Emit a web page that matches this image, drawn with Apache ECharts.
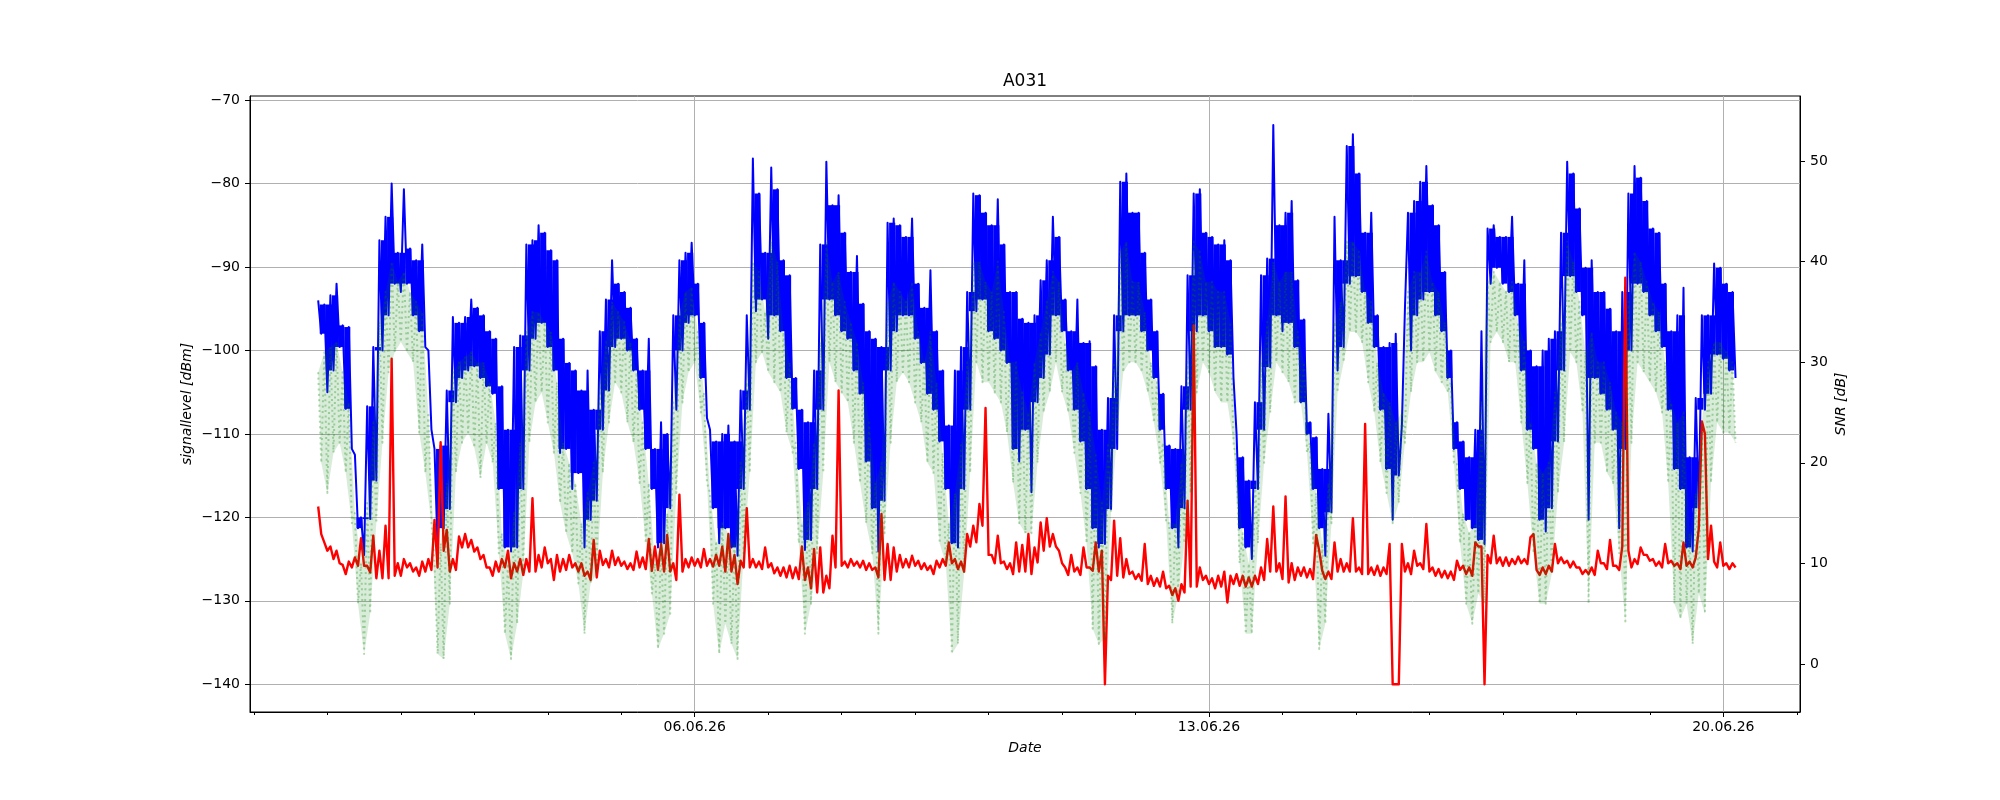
<!DOCTYPE html>
<html>
<head>
<meta charset="utf-8">
<title>A031</title>
<script src="https://cdn.jsdelivr.net/npm/echarts@6/dist/echarts.min.js"></script>
<style>
  html, body { margin: 0; padding: 0; background: #fff; }
  #chart { width: 2000px; height: 800px; }
</style>
</head>
<body>
<div id="chart"></div>
<script>
const HOUR = 3600 * 1000;
const DAY = 24 * HOUR;

// first sample 31.05.26 21:00; each entry k is the 2-hour slot k,
// high value at the even hour, low value at the odd hour after it
const startTime = Date.UTC(2026, 4, 31, 21);
const slotHours = 2;

const signalHigh = [
  -94, -94.5, -93.4, -92, -97, -97.2, -112.5, -120, -106.7, -99.6,
  -86.8, -84, -80, -88.3, -80.7, -87.8, -89.2, -87.3, -100, -111.8,
  -111.4, -104.8, -96, -96.7, -96, -93.9, -94.9, -95.8, -97.7, -98.6,
  -104.3, -109.5, -99.6, -98.2, -87.3, -86.8, -85, -85.9, -88,
  -89.2, -98.6, -101.5, -102.4, -104.8, -102.4, -107.1, -97.7, -93.9, -89.2,
  -92, -93, -94.9, -98.6, -102.4, -98.6, -111.8, -108.6, -110, -95.8,
  -89.2, -88.3, -87.1, -92, -96.7, -109.5, -110.9, -110, -109, -110.9,
  -104.8, -95.8, -77, -81.2, -88.3, -78.1, -80.7, -89.2, -91,
  -103.3, -107.1, -108.6, -102.4, -87.3, -77.4, -82.6, -81.4, -85.9, -90.6,
  -88.7, -94.4, -97.7, -98.6, -99.6, -84.7, -84.2, -85, -86.4, -84.2,
  -92, -94.9, -90.4, -97.7, -102.4, -109, -102.4, -99.6, -93, -81.2,
  -81.4, -83.5, -85, -81.9, -87.3, -93, -93, -96.2, -96.7,
  -95.8, -91.6, -89.2, -84, -86.4, -93.9, -97.7, -93.9, -99.1, -98.9,
  -101.9, -109.5, -105.7, -95.8, -79.8, -78.8, -83.5, -83.5, -88.3, -93.9,
  -97.7, -105.2, -111.4, -111.8, -104.3, -91, -81.2, -80.7, -85.9, -86.4,
  -87.3, -86.8, -89.2, -110, -112.8, -115.6, -106.2, -91, -89,
  -73, -85, -83.5, -82.1, -91.6, -96.3, -108.6, -110.4, -114.2, -107.6,
  -84, -89.2, -75.5, -74.1, -78.8, -85.9, -83.5, -95.8, -99.6, -99.1,
  -98, -109, -83.5, -82.1, -79.8, -77.9, -82.6, -85, -90.6, -100,
  -108.6, -110.9, -112.8, -109.5, -97.7, -85.4, -85, -86.4, -86.4,
  -84, -92, -89.2, -100, -101.9, -100, -98.6, -97.7, -85.9, -77.4,
  -78.8, -83, -90.1, -89.2, -93, -93, -95, -97.7, -93, -81.2,
  -77.9, -79.3, -82.1, -85.4, -85.9, -92, -97.7, -95.8, -92.5, -112.8,
  -105.7, -95.8, -95.8, -89.6, -90.1, -92, -93
];
const signalLow = [
  -98, -105, -102.4, -99.6, -107, -111.8, -121.3, -124.5, -120.2, -115.6,
  -100, -95.8, -92, -93, -92, -95.8, -97.7, -99.6, -109.5, -123.6,
  -121.3, -119, -106.2, -103.3, -102.4, -101.9, -103.3, -104.3, -105.2, -116.6,
  -123.6, -124.1, -123.6, -116.6, -102.4, -98.6, -96.7, -99.6, -102.4,
  -112.3, -111.8, -116.6, -114.7, -123.6, -120.3, -118, -109.5, -104.8, -99.6,
  -98.6, -100, -102.4, -107.1, -111.8, -116.6, -123.6, -123.1, -118.9, -107.1,
  -100, -96.7, -95.8, -103.3, -108.1, -118.9, -123.1, -121.3, -123.6, -124.6,
  -116.6, -107.1, -95.3, -93.9, -98.6, -95.8, -97.7, -103.3, -107,
  -114.2, -123.9, -122.7, -116.6, -107.1, -93.9, -95.8, -97.7, -98.6, -102.4,
  -105.2, -113.3, -118.9, -124.1, -118, -102.4, -97.7, -95.8, -95.8, -98.6,
  -101.5, -105.2, -107.1, -110.9, -116.6, -123.1, -123.6, -116.6, -107.1, -95.3,
  -93.9, -97.7, -98.6, -100, -101.5, -111.8, -113.3, -109.5, -117,
  -106.2, -103.3, -100.5, -95.8, -97.7, -102.4, -107.1, -110.9, -116.6, -121.3,
  -123.6, -123.2, -119, -111.8, -97.7, -95.8, -95.8, -97.7, -100, -103.3,
  -109.5, -116.6, -121.3, -123.6, -118.9, -107.1, -97.7, -95.8, -97.7, -99.6,
  -99.6, -100.5, -103.3, -121.3, -123.6, -125, -116.6, -109.5, -102,
  -95.8, -97.7, -96.7, -99.6, -106.2, -110, -116.6, -121.3, -124.6, -119.4,
  -102.4, -99.6, -92, -91.1, -93, -96.7, -99.6, -107.1, -114.2, -120.3,
  -115, -95, -100, -95.8, -93.9, -93, -95.8, -97.7, -103.3, -111.8,
  -116.6, -120.3, -121.3, -122.7, -123.2, -92, -90.1, -92, -93,
  -95.8, -102.4, -109.5, -111.8, -120.3, -121.7, -118.9, -110.9, -102.4, -91.1,
  -93, -95.8, -120.3, -103.3, -105.2, -107.1, -109.5, -121.3, -111.8, -100,
  -92, -93, -95.8, -97.7, -99.6, -107.1, -114.2, -116.6, -123.6, -124.1,
  -118.9, -107.1, -105.2, -100.5, -101, -102.4, -103.3
];
const noiseHigh = [
  -118.7, -123, -123.5, -124, -125.7, -125.3, -124.8, -122.5, -125.8, -122.2,
  -124, -121, -101, -125.5, -125, -125.5, -126, -125.3, -125, -120.3,
  -111, -121.5, -125, -122.3, -122, -122.7, -123.6, -124.5, -126, -125.3,
  -125, -124, -125.5, -125, -125, -117.7, -124.5, -123.6, -125,
  -124.5, -125, -124.5, -125.5, -125.5, -126.5, -122.7, -124, -125, -124,
  -124.8, -125.3, -125.5, -124.1, -124.8, -122.6, -123.5, -123.2, -122.1, -125.5,
  -117.3, -125, -124.8, -125, -123.8, -125, -124.5, -123.5, -122, -124.5,
  -125.2, -118.9, -125, -125.3, -123.6, -125.5, -126, -126, -125.8,
  -126, -123.5, -126, -123.8, -123.6, -127, -122.2, -104.8, -125.3, -125,
  -125.3, -125.2, -125.5, -126, -119.6, -123.2, -123.6, -124.5, -125, -124.6,
  -125.2, -125.5, -125.8, -125.2, -125, -123, -125, -125.3, -122, -121,
  -118.4, -106.9, -124.5, -122.2, -125.3, -125.5, -123, -123.3, -122,
  -123.6, -120.6, -120.1, -122, -124, -126, -124.5, -126, -123.6, -126,
  -123, -124, -127, -120.4, -122.5, -125, -126.5, -126.8, -123.2, -127,
  -127.3, -126.5, -128.2, -128.5, -128, -118, -97, -126, -127, -127.3,
  -127, -126.5, -127, -126.8, -127, -127.2, -127, -126, -122.6,
  -118.7, -125.5, -117.5, -125.5, -126, -126, -126.2, -122.1, -126.4, -126.5,
  -123, -125, -125.5, -120.1, -126, -108.8, -126, -125.8, -126, -123.2,
  -140, -123.2, -125.5, -124, -125.5, -120.8, -126, -126.2, -126.4, -126.5,
  -125.2, -125.8, -126, -123, -123.5, -124.5, -122.2, -124.8, -124.8,
  -125, -124.7, -125, -122.4, -126.3, -126, -125.8, -123.2, -124.8, -125.2,
  -125.3, -126, -126.3, -126, -124, -125.5, -122.7, -125.8, -123.5, -124,
  -125, -123.6, -124.5, -125, -125.3, -123.2, -125.2, -125.5, -123, -125.3,
  -124.8, -108.5, -125, -125.3, -123, -125.5, -125.5
];
const noiseLow = [
  -122, -124, -125, -125.5, -126.8, -126, -125.8, -125.8, -126.6, -127.3,
  -127.3, -127.3, -127, -127, -126, -126.5, -127, -126.5, -126.3, -126,
  -124, -126.5, -126.3, -123.6, -123.6, -124.1, -125, -126, -127, -126.5,
  -126, -127.3, -126.5, -126.9, -126.5, -126.5, -126, -125.5, -127.5,
  -126.5, -126.3, -126, -126.5, -127, -127.5, -127.2, -125.7, -126, -125.7,
  -125.8, -126.2, -126.3, -126, -126.2, -126.4, -126.3, -126.5, -126.5, -127.5,
  -126.5, -126, -125.8, -126, -125.8, -125.9, -125.8, -126.5, -126.5, -128,
  -126, -126, -126, -126.2, -126, -126.7, -127, -127.2, -127.3,
  -127.4, -127.5, -128.5, -129, -129, -128.5, -126, -125.8, -126, -125.8,
  -126, -126.3, -126.3, -127.2, -127.5, -127.5, -126.5, -126, -126, -125.8,
  -126.2, -126.3, -126.8, -126, -125.8, -125.5, -126.2, -126.5, -123.5, -123,
  -121, -124.5, -125.5, -125.5, -126.2, -126.8, -126.5, -126.5, -126.8,
  -125.4, -124, -123.5, -123.5, -125.5, -126.9, -126.5, -126.9, -126, -126.4,
  -126.5, -140, -127.5, -127, -127.2, -126.8, -127.4, -127.6, -128, -128.2,
  -128.3, -128.5, -129.3, -130, -129, -128.3, -128.3, -127.5, -128, -128.5,
  -128.3, -130.2, -128, -128.2, -128.3, -128.3, -128, -127.5, -126.5,
  -126.5, -127.4, -127.8, -127.5, -127, -127.2, -127.4, -124, -127.4, -127.4,
  -126.5, -126.5, -126.5, -126.5, -126.8, -126.8, -126.9, -127, -126.8, -140,
  -140, -126.5, -126.8, -125.8, -126.2, -126.5, -127, -127.2, -127.3, -127.5,
  -126.3, -126.8, -127, -123.5, -140, -125.5, -125.5, -125.8, -125.8,
  -125.6, -125.5, -125.6, -122, -126.9, -126.8, -126.5, -125.5, -125.5, -126,
  -126, -126.8, -126.8, -126.9, -125.5, -126.2, -125.8, -126.3, -91.3, -126,
  -125.6, -124.5, -125.2, -125.8, -126, -125.5, -125.8, -126.2, -125.8, -126,
  -121.3, -110, -121, -126, -125.8, -126.2, -126
];
const snrHigh = [
  29, 31, 31.5, 32, 29, 26, 15, 10, 16, 24,
  34, 37, 40, 38, 39, 37, 36, 35, 25, 10,
  12, 18, 29, 30, 30.5, 31, 30, 30, 28, 24,
  13, 10, 15, 22, 33, 35, 35, 34, 33,
  28, 22, 20, 18, 14, 17, 20, 28, 32, 36,
  35, 34, 32, 29, 24, 18, 10, 12, 15, 26,
  35, 37, 37.5, 33, 27, 17, 12, 14, 13, 12,
  20, 28, 40, 39, 35, 42, 40, 33, 30,
  22, 14, 16, 22, 32, 42, 38, 39, 36, 34,
  32, 28, 24, 18, 20, 36, 38, 37, 36, 38,
  33, 30, 33, 28, 21, 14, 17, 22, 30, 40,
  40, 38, 37, 40, 35, 30, 30, 27, 25,
  30, 33, 36, 39, 38, 32, 29, 30, 27, 25,
  21, 16, 22, 30, 41, 42, 38, 38, 35, 30,
  28, 22, 14, 14, 20, 30, 42, 41, 38, 38,
  37, 37, 34, 20, 13, 10, 18, 30, 34,
  40, 38, 39, 39, 33, 30, 22, 17, 12, 18,
  34, 36, 42, 42, 41, 37, 36, 30, 27, 26,
  24, 25, 37, 39, 39, 41, 38, 37, 34, 28,
  20, 15, 13, 14, 26, 38, 39, 38, 37,
  38, 34, 32, 24, 20, 19, 20, 27, 34, 42,
  40, 36, 31, 33, 30, 30, 28, 25, 24, 36,
  41, 40, 38, 36, 35, 30, 26, 24, 25, 13,
  17, 24, 30, 32, 32, 31, 30
];
const snrLow = [
  20, 17, 21, 22, 19, 14, 6, 1, 5, 14,
  22, 29, 31, 32, 31, 30, 23, 19, 14, 1,
  0.5, 6, 19, 22, 23, 21.5, 18.5, 22, 20, 11,
  3, 0.5, 4, 9, 22, 26, 27, 24, 21,
  16, 13, 11, 8, 3, 8, 9, 19, 24, 28,
  27, 24, 22, 18, 12, 7, 1.5, 3, 5, 17,
  26, 29, 30, 25, 18, 6, 1, 4, 2, 0.5,
  11, 19, 30, 31, 29, 28, 27, 23, 21,
  12, 3, 6, 11, 19, 30, 28, 27, 26, 22,
  18, 14, 11, 3, 13, 22, 28, 29, 28, 26,
  24, 20, 19, 12, 10, 1, 2, 9, 19, 30,
  28, 28, 27, 26, 23, 18, 14, 13, 13,
  20, 25, 27, 30, 27, 25, 21, 17, 12, 3.5,
  2, 2.5, 15, 23, 29, 30, 30, 29, 27, 24,
  20, 14, 4, 7, 12, 17, 27, 30, 29, 27,
  26, 26, 22, 10, 3, 3, 12, 20, 25,
  30, 29, 28, 26, 26, 21, 12, 1.5, 4, 14,
  27, 30, 33, 33, 32, 28, 25, 20, 17, 14,
  16, 22, 27, 30, 30, 31, 29, 28, 27, 20,
  12, 6, 4, 7, 6, 32, 33, 32, 30,
  30, 24, 18, 11, 6, 6, 9, 17, 22, 31,
  30, 25, 6, 22, 22, 19, 18, 11, 4, 22,
  30, 29, 28, 27, 25, 18, 6, 4.5, 6, 2,
  7, 5, 18, 24, 23, 23, 22
];

const signalTicks = [-140, -130, -120, -110, -100, -90, -80, -70];
const snrTicks = [0, 10, 20, 30, 40, 50];
const labelDates = [Date.UTC(2026, 5, 6), Date.UTC(2026, 5, 13), Date.UTC(2026, 5, 20)];
const dayTicks = [];
for (let d = 0; d <= 21; d++) dayTicks.push(Date.UTC(2026, 4, 31) + d * DAY);

const xMin = Date.UTC(2026, 4, 31) - 0.053 * DAY;
const xMax = Date.UTC(2026, 5, 21) + 0.044 * DAY;

// zigzag line: high at the slot start, low one hour later
function toSeries(high, low) {
  const out = [];
  high.forEach((v, k) => {
    const t = startTime + k * slotHours * HOUR;
    out.push([t, v]);
    out.push([t + HOUR, low[k]]);
  });
  return out;
}

// neighbouring slots, so a band can be filled between them
function toBand(high, low) {
  const out = [];
  for (let k = 0; k < high.length - 1; k++) {
    out.push([startTime + k * slotHours * HOUR, high[k], low[k], high[k + 1], low[k + 1]]);
  }
  return out;
}

// solid core of the noisy trace; the spikes beyond it come from the zigzag line
function coreRenderer(color) {
  return (params, api) => {
    const t = api.value(0);
    const top = Math.min(api.value(1), api.value(3));
    const bottom = Math.max(api.value(2), api.value(4));
    if (top <= bottom) return null;
    const a = api.coord([t + 0.5 * HOUR, top]);
    const b = api.coord([t + 2.5 * HOUR, bottom]);
    return {
      type: 'rect',
      shape: { x: a[0], y: a[1], width: b[0] - a[0], height: b[1] - a[1] },
      style: { fill: color }
    };
  };
}

// full envelope between highs and lows, used for the faint SNR haze
function envelopeRenderer(color) {
  return (params, api) => {
    const t = api.value(0);
    const step = slotHours * HOUR;
    const points = [
      api.coord([t, api.value(1)]),
      api.coord([t + step, api.value(3)]),
      api.coord([t + step + HOUR, api.value(4)]),
      api.coord([t + HOUR, api.value(2)])
    ];
    return { type: 'polygon', shape: { points }, style: { fill: color } };
  };
}

function minus(v) {
  return String(v).replace('-', '\u2212');
}

function dateLabel(v) {
  const d = new Date(v);
  const p = (n) => String(n).padStart(2, '0');
  return `${p(d.getUTCDate())}.${p(d.getUTCMonth() + 1)}.${p(d.getUTCFullYear() % 100)}`;
}

const font = 'DejaVu Sans';
const tickLabel = { color: '#000', fontFamily: font, fontSize: 14 };

const chart = echarts.init(document.getElementById('chart'), null, { renderer: 'canvas' });
chart.setOption({
  backgroundColor: '#fff',
  animation: false,
  grid: {
    left: 250, right: 200, top: 96, bottom: 88,
    show: true, borderColor: '#000', borderWidth: 1,
    containLabel: false, outerBoundsMode: 'none'
  },
  // dates are plain UTC milliseconds on value axes so the tick positions can be given exactly
  xAxis: [
    {
      type: 'value',
      min: xMin,
      max: xMax,
      position: 'bottom',
      axisLine: { show: true, onZero: false, lineStyle: { color: '#000', width: 1 } },
      axisTick: { show: true, customValues: labelDates, length: 5, lineStyle: { color: '#000', width: 1 } },
      axisLabel: { ...tickLabel, customValues: labelDates, margin: 8, formatter: dateLabel },
      splitLine: { show: true, lineStyle: { color: '#b0b0b0', width: 1 } }
    },
    {
      type: 'value',
      min: xMin,
      max: xMax,
      position: 'bottom',
      axisLine: { show: false, onZero: false },
      axisTick: { show: true, customValues: dayTicks, length: 3, lineStyle: { color: '#000', width: 1 } },
      axisLabel: { show: false },
      splitLine: { show: false }
    }
  ],
  yAxis: [
    {
      type: 'value',
      position: 'left',
      min: -143.32,
      max: -69.52,
      axisLine: { show: true, onZero: false, lineStyle: { color: '#000', width: 1 } },
      axisTick: { show: true, customValues: signalTicks, length: 5, lineStyle: { color: '#000', width: 1 } },
      axisLabel: { ...tickLabel, customValues: signalTicks, margin: 10, formatter: minus },
      splitLine: { show: true, lineStyle: { color: '#b0b0b0', width: 1 } }
    },
    {
      type: 'value',
      position: 'right',
      min: -4.77,
      max: 56.46,
      axisLine: { show: true, onZero: false, lineStyle: { color: '#000', width: 1 } },
      axisTick: { show: true, customValues: snrTicks, length: 5, lineStyle: { color: '#000', width: 1 } },
      axisLabel: { ...tickLabel, customValues: snrTicks, margin: 10, formatter: minus },
      splitLine: { show: false }
    }
  ],
  series: [
    {
      name: 'signallevel band',
      type: 'custom',
      xAxisIndex: 0,
      yAxisIndex: 0,
      data: toBand(signalHigh, signalLow),
      encode: { x: 0, y: [1, 2] },
      renderItem: coreRenderer('#0000ff'),
      silent: true,
      z: 2
    },
    {
      name: 'signallevel',
      type: 'line',
      xAxisIndex: 0,
      yAxisIndex: 0,
      data: toSeries(signalHigh, signalLow),
      showSymbol: false,
      symbol: 'none',
      z: 2,
      lineStyle: { color: '#0000ff', width: 2, join: 'round' }
    },
    {
      name: 'noiselevel',
      type: 'line',
      xAxisIndex: 0,
      yAxisIndex: 0,
      data: toSeries(noiseHigh, noiseLow),
      showSymbol: false,
      symbol: 'none',
      z: 3,
      lineStyle: { color: '#ff0000', width: 2.4, join: 'round' }
    },
    {
      name: 'SNR band',
      type: 'custom',
      xAxisIndex: 0,
      yAxisIndex: 1,
      data: toBand(snrHigh, snrLow),
      encode: { x: 0, y: [1, 2] },
      renderItem: envelopeRenderer('rgba(0, 128, 0, 0.15)'),
      silent: true,
      z: 4
    },
    {
      name: 'SNR',
      type: 'line',
      xAxisIndex: 0,
      yAxisIndex: 1,
      data: toSeries(snrHigh, snrLow),
      showSymbol: false,
      symbol: 'none',
      z: 5,
      lineStyle: { color: 'rgba(0, 128, 0, 0.3)', width: 2, type: [2, 3.4], cap: 'butt', join: 'round' }
    }
  ],
  graphic: [
    {
      type: 'text', x: 1025, y: 82,
      style: { text: 'A031', fontFamily: font, fontSize: 17, fill: '#000',
        align: 'center', verticalAlign: 'middle', textAlign: 'center', textVerticalAlign: 'middle' }
    },
    {
      type: 'text', x: 187, y: 404, rotation: Math.PI / 2,
      style: { text: 'signallevel [dBm]', fontFamily: font, fontSize: 14, fontStyle: 'italic', fill: '#000',
        align: 'center', verticalAlign: 'middle', textAlign: 'center', textVerticalAlign: 'middle' }
    },
    {
      type: 'text', x: 1841, y: 404, rotation: Math.PI / 2,
      style: { text: 'SNR [dB]', fontFamily: font, fontSize: 14, fontStyle: 'italic', fill: '#000',
        align: 'center', verticalAlign: 'middle', textAlign: 'center', textVerticalAlign: 'middle' }
    },
    {
      type: 'text', x: 1025, y: 748,
      style: { text: 'Date', fontFamily: font, fontSize: 14, fontStyle: 'italic', fill: '#000',
        align: 'center', verticalAlign: 'middle', textAlign: 'center', textVerticalAlign: 'middle' }
    }
  ]
});
</script>
</body>
</html>
